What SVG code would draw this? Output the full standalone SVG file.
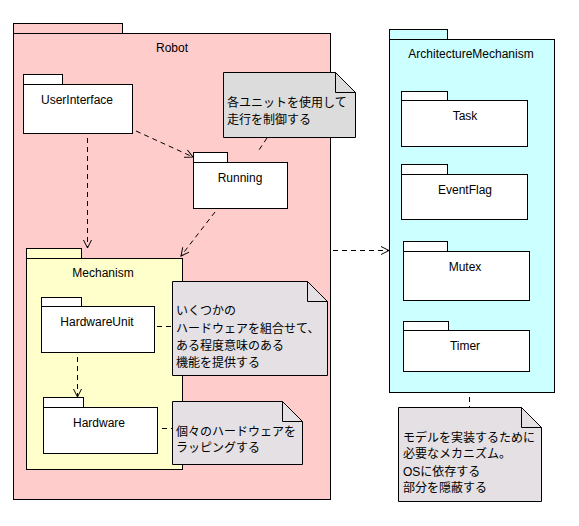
<svg xmlns="http://www.w3.org/2000/svg" width="579" height="526" viewBox="0 0 579 526">
<defs>
<style>
.pk{stroke:#000;stroke-width:1}
.w{fill:#fff}
.t{font-family:"Liberation Sans",Arial,sans-serif;font-size:12px;fill:#000;text-anchor:middle}
.j{font-family:"Liberation Sans","Noto Sans CJK JP",sans-serif;font-size:12px;fill:#000}
.c{fill:none;stroke:#000;stroke-width:1;stroke-dasharray:5,4}
.n1{fill:#DCDCDC;stroke:#000}
.n2{fill:#E4E0E4;stroke:#000}
.f{fill:none;stroke:#000}
</style>
<marker id="a" markerWidth="10" markerHeight="10" refX="9" refY="5" orient="auto" markerUnits="userSpaceOnUse">
<path d="M1,1 L9,5 L1,9" fill="none" stroke="#000"/>
</marker>
</defs>
<rect width="579" height="526" fill="#fff"/>

<g id="Robot">
<rect class="pk" x="13.5" y="23.5" width="109" height="10" fill="#FFCCCC"/>
<rect class="pk" x="13.5" y="33.5" width="317" height="466" fill="#FFCCCC"/>
<text class="t" x="172" y="52">Robot</text>
</g>

<g id="ArchitectureMechanism">
<rect class="pk" x="389.5" y="29.5" width="58" height="10" fill="#CCFFFF"/>
<rect class="pk" x="389.5" y="39.5" width="165" height="353" fill="#CCFFFF"/>
<text class="t" x="471" y="58">ArchitectureMechanism</text>
</g>

<g id="UserInterface">
<rect class="pk w" x="23.5" y="74.5" width="39" height="10"/>
<rect class="pk w" x="23.5" y="84.5" width="109" height="49"/>
<text class="t" x="77" y="104">UserInterface</text>
</g>

<g id="Running">
<rect class="pk w" x="193.5" y="152.5" width="34" height="10"/>
<rect class="pk w" x="193.5" y="162.5" width="94" height="46"/>
<text class="t" x="240" y="182">Running</text>
</g>

<g id="Mechanism">
<rect class="pk" x="26.5" y="248.5" width="55" height="10" fill="#FFFFCC"/>
<rect class="pk" x="26.5" y="258.5" width="156" height="211" fill="#FFFFCC"/>
<text class="t" x="103" y="277">Mechanism</text>
</g>

<g id="HardwareUnit">
<rect class="pk w" x="41.5" y="297.5" width="40" height="9"/>
<rect class="pk w" x="41.5" y="306.5" width="113" height="46"/>
<text class="t" x="97" y="326">HardwareUnit</text>
</g>

<g id="Hardware">
<rect class="pk w" x="43.5" y="397.5" width="40" height="10"/>
<rect class="pk w" x="43.5" y="407.5" width="114" height="46"/>
<text class="t" x="99" y="427">Hardware</text>
</g>

<g id="Task">
<rect class="pk w" x="401.5" y="91.5" width="46" height="9"/>
<rect class="pk w" x="401.5" y="100.5" width="126" height="46"/>
<text class="t" x="465" y="120">Task</text>
</g>

<g id="EventFlag">
<rect class="pk w" x="401.5" y="164.5" width="46" height="10"/>
<rect class="pk w" x="401.5" y="174.5" width="126" height="45"/>
<text class="t" x="465" y="194">EventFlag</text>
</g>

<g id="Mutex">
<rect class="pk w" x="403.5" y="241.5" width="44" height="10"/>
<rect class="pk w" x="403.5" y="251.5" width="126" height="49"/>
<text class="t" x="465" y="271">Mutex</text>
</g>

<g id="Timer">
<rect class="pk w" x="403.5" y="321.5" width="45" height="9"/>
<rect class="pk w" x="403.5" y="330.5" width="126" height="41"/>
<text class="t" x="465" y="350">Timer</text>
</g>

<g id="note1">
<path class="n1" d="M223.5,72.5 H335.5 L355.5,92.5 V137.5 H223.5 Z"/>
<path class="f" d="M335.5,72.5 V92.5 H355.5"/>
<text class="j" x="227" y="107">各ユニットを使用して</text>
<text class="j" x="227" y="124">走行を制御する</text>
</g>

<g id="note2">
<path class="n2" d="M172.5,281.5 H307.5 L327.5,301.5 V375.5 H172.5 Z"/>
<path class="f" d="M307.5,281.5 V301.5 H327.5"/>
<text class="j" x="176" y="315">いくつかの</text>
<text class="j" x="176" y="333">ハードウェアを組合せて、</text>
<text class="j" x="176" y="350">ある程度意味のある</text>
<text class="j" x="176" y="367">機能を提供する</text>
</g>

<g id="note3">
<path class="n2" d="M172.5,401.5 H282.5 L302.5,421.5 V464.5 H172.5 Z"/>
<path class="f" d="M282.5,401.5 V421.5 H302.5"/>
<text class="j" x="176" y="436">個々のハードウェアを</text>
<text class="j" x="176" y="452">ラッピングする</text>
</g>

<g id="note4">
<path class="n2" d="M398.5,407.5 H521.5 L541.5,427.5 V501.5 H398.5 Z"/>
<path class="f" d="M521.5,407.5 V427.5 H541.5"/>
<text class="j" x="403" y="442">モデルを実装するために</text>
<text class="j" x="403" y="458">必要なメカニズム。</text>
<text class="j" x="403" y="476">OSに依存する</text>
<text class="j" x="403" y="492">部分を隠蔽する</text>
</g>

<g id="connectors">
<line class="c" x1="136" y1="131" x2="193" y2="157" marker-end="url(#a)"/>
<line class="c" x1="87.5" y1="138" x2="87.5" y2="248" marker-end="url(#a)"/>
<line class="c" x1="215" y1="212" x2="181" y2="256" marker-end="url(#a)"/>
<line class="c" x1="267" y1="138" x2="259" y2="150"/>
<line class="c" x1="77.5" y1="357" x2="77.5" y2="397" marker-end="url(#a)"/>
<line class="c" x1="157" y1="326.5" x2="172" y2="326.5"/>
<line class="c" x1="162" y1="428.5" x2="172" y2="428.5" stroke-dasharray="4,6"/>
<line class="c" x1="333" y1="250.5" x2="389" y2="250.5" marker-end="url(#a)"/>
<line class="c" x1="469.5" y1="397" x2="469.5" y2="407" stroke-dasharray="4,6"/>
</g>
</svg>
